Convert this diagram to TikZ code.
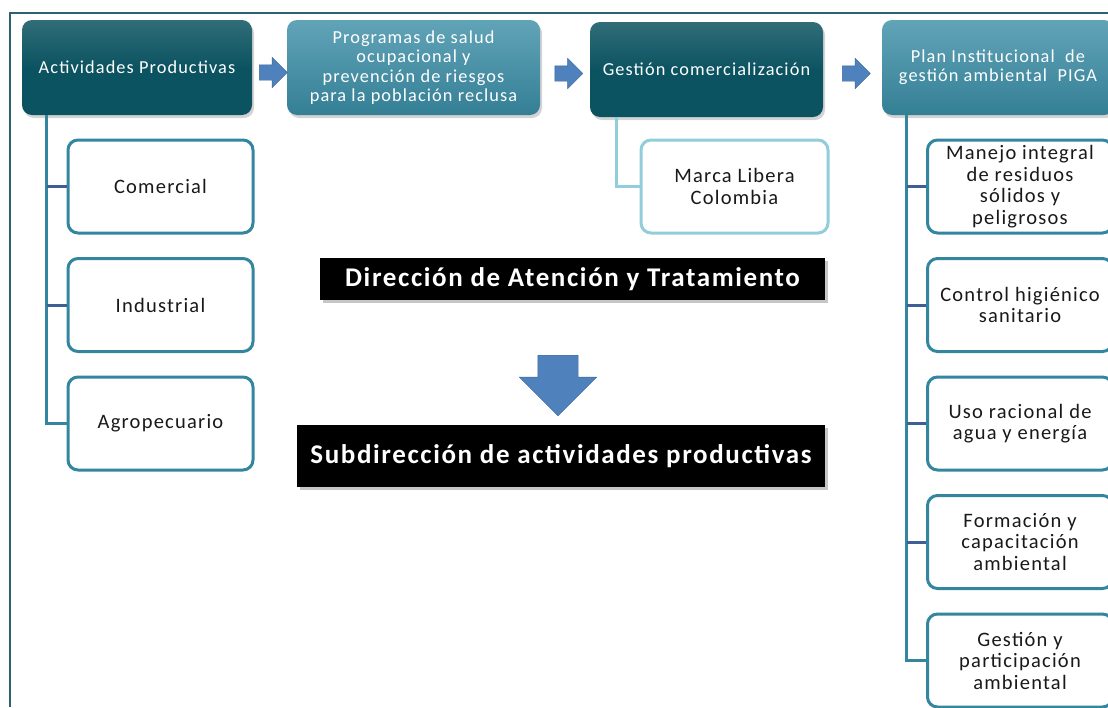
\documentclass[tikz,border=0pt]{standalone}
\usepackage{fontspec}
\setmainfont{Carlito}
\newfontfamily\spacedfont[LetterSpace=6]{Carlito}
\usetikzlibrary{positioning,calc,shapes.arrows,shadows}

\definecolor{darkteal}{HTML}{0C5361}
\definecolor{midteal}{HTML}{3A8DA6}
\definecolor{childblue}{HTML}{33869D}
\definecolor{stubblue}{HTML}{3F5E95}
\definecolor{lightbox}{HTML}{92CDDC}
\definecolor{arrowblue}{HTML}{4F81BD}
\definecolor{framecol}{HTML}{2F6270}

\tikzset{
  headdark/.style={rounded corners=10pt, top color=darkteal!85!white, bottom color=darkteal,
    middle color=darkteal, text=white, align=center, minimum height=95pt,
    font=\spacedfont\fontsize{18.3}{19.3}\selectfont,
    drop shadow={shadow xshift=2pt, shadow yshift=-3pt, opacity=.35}},
  headlight/.style={headdark, top color=midteal!80!white, middle color=midteal, bottom color=midteal!90!black},
  childbox/.style={draw=childblue, line width=3pt, rounded corners=10pt, fill=white,
    minimum width=185pt, minimum height=93pt, align=center, text=black!90,
    font=\spacedfont\fontsize{20.5}{21.5}\selectfont},
  marcabox/.style={childbox, draw=lightbox, minimum width=187pt},
  blackbar/.style={fill=black, text=white, font=\spacedfont\bfseries\fontsize{27}{30}\selectfont,
    drop shadow={shadow xshift=3pt, shadow yshift=-3pt, opacity=.45}},
  rarrow/.style={single arrow, fill=arrowblue, draw=arrowblue!80!black, line width=.4pt,
    inner sep=7.5pt, single arrow head extend=7.5pt, minimum height=28pt},
  trunk/.style={draw=childblue, line width=3pt},
  stub/.style={draw=stubblue, line width=3pt},
}

\begin{document}
\begin{tikzpicture}[x=1pt, y=-1pt, node distance=22.5pt]
\useasboundingbox (0,0) rectangle (1108,707);

% frame
\draw[framecol, line width=2pt] (10,707) -- (10,13) -- (1108,13);

% top row
\node[headdark, minimum width=230pt] (act) at (137,67.5) {Actividades Productivas};
\node[headlight, minimum width=253pt] (prog) at (413.5,67.5) {Programas de salud\\ocupacional y\\prevención de riesgos\\para la población reclusa};
\node[headdark, minimum width=233pt] (gest) at (706.5,69.5) {Gestión comercialización};
\node[headlight, minimum width=232pt] (piga) at (998,67.5) {Plan Institucional \ de\\gestión ambiental \ PIGA};

\node[rarrow] (ar1) at ($(act.east)!0.5!(prog.west)+(0,5)$) {};
\node[rarrow] (ar2) at ($(prog.east)!0.5!(gest.west)+(0,5)$) {};
\node[rarrow] (ar3) at ($(gest.east)!0.5!(piga.west)+(0,5)$) {};

% left branch
\node[childbox] (com) at (160.5,186.5) {Comercial};
\node[childbox, below=of com] (ind) {Industrial};
\node[childbox, below=of ind] (agro) {Agropecuario};

\coordinate (actT) at ([xshift=25pt]act.south west);
\draw[trunk] (actT) |- (agro.west);
\draw[stub] (com.west) -- (com.west -| actT);
\draw[stub] (ind.west) -- (ind.west -| actT);

% marca
\node[marcabox] (marca) at (734.5,186.5) {Marca Libera\\Colombia};
\draw[draw=lightbox, line width=3pt] ([xshift=27pt]gest.south west) |- (marca.west);

% right branch
\node[childbox] (resid) at (1020,186.5) {Manejo integral\\de residuos\\sólidos y\\peligrosos};
\node[childbox, below=of resid] (higi) {Control higiénico\\sanitario};
\node[childbox, below=of higi] (agua) {Uso racional de\\agua y energía};
\node[childbox, below=of agua] (form) {Formación y\\capacitación\\ambiental};
\node[childbox, below=of form] (part) {Gestión y\\participación\\ambiental};

\coordinate (pigaT) at ([xshift=25pt]piga.south west);
\draw[trunk] (pigaT) |- (part.west);
\foreach \n in {resid,higi,agua,form}
  \draw[stub] (\n.west) -- (\n.west -| pigaT);

% centre labels
\node[blackbar, minimum width=505pt, minimum height=42pt] (dir) at (572.5,279) {Dirección de Atención y Tratamiento};
\node[blackbar, minimum width=528pt, minimum height=62pt] (sub) at (561,456) {Subdirección de actividades productivas};
\node[single arrow, shape border rotate=270, fill=arrowblue, draw=arrowblue!80!black, line width=.4pt,
  inner sep=20pt, single arrow head extend=18.5pt, minimum height=57pt, anchor=tail] (down) at (558,355) {};

\end{tikzpicture}
\end{document}
